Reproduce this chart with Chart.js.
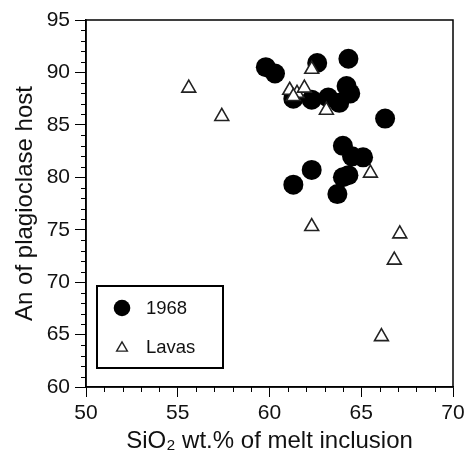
<!DOCTYPE html>
<html>
<head>
<meta charset="utf-8">
<script src="https://cdn.jsdelivr.net/npm/chart.js@4"></script>
<style>
  html, body { margin: 0; padding: 0; background: #fff; }
  #wrap { width: 472px; height: 452px; }
</style>
</head>
<body>
<div id="wrap"><canvas id="chart"></canvas></div>
<script>
const silica1968 = [59.8, 60.3, 62.6, 64.3, 64.2, 64.4, 62.3, 63.2, 63.8, 61.3, 66.3, 64.0, 64.5, 65.1, 62.3, 61.3, 64.3, 64.0, 63.7];
const an1968 = [90.5, 89.9, 90.9, 91.3, 88.7, 88.0, 87.4, 87.6, 87.1, 87.5, 85.6, 83.0, 82.0, 81.9, 80.7, 79.3, 80.2, 80.0, 78.4];

const silicaLavas = [55.6, 57.4, 62.3, 61.1, 61.5, 61.9, 61.3, 63.1, 65.5, 62.3, 67.1, 66.8, 66.1];
const anLavas = [88.5, 85.8, 90.3, 88.3, 88.0, 88.5, 87.7, 86.4, 80.4, 75.3, 74.6, 72.1, 64.8];

const xRange = [50, 70];
const yRange = [60, 95];
const seriesNames = ['1968', 'Lavas'];

const FONT = 'Liberation Sans, Arial, Helvetica, sans-serif';

const toPoints = (xs, ys) => xs.map((x, i) => ({x: x, y: ys[i]}));

// frame, minor ticks and the boxed legend
const extras = {
  id: 'extras',
  afterDraw(chart) {
    const ctx = chart.ctx;
    const a = chart.chartArea;
    const xs = chart.scales.x, ys = chart.scales.y;
    ctx.save();
    ctx.strokeStyle = '#000';
    ctx.lineWidth = 1.5;
    ctx.strokeRect(a.left, a.top, a.right - a.left, a.bottom - a.top);

    ctx.lineWidth = 1;
    ctx.beginPath();
    for (let v = xRange[0]; v <= xRange[1]; v++) {
      if (v % 5 === 0) continue;
      const px = Math.round(xs.getPixelForValue(v)) + 0.5;
      ctx.moveTo(px, a.bottom);
      ctx.lineTo(px, a.bottom + 5);
    }
    for (let v = yRange[0]; v <= yRange[1]; v++) {
      if (v % 5 === 0) continue;
      const py = Math.round(ys.getPixelForValue(v)) + 0.5;
      ctx.moveTo(a.left, py);
      ctx.lineTo(a.left - 5, py);
    }
    ctx.stroke();

    // legend box
    const bx = 97, by = 286, bw = 126, bh = 82;
    ctx.fillStyle = '#fff';
    ctx.fillRect(bx, by, bw, bh);
    ctx.lineWidth = 2;
    ctx.strokeRect(bx, by, bw, bh);

    ctx.fillStyle = '#000';
    ctx.beginPath();
    ctx.arc(122, 308, 8.3, 0, Math.PI * 2);
    ctx.fill();

    ctx.fillStyle = '#fff';
    ctx.strokeStyle = '#222';
    ctx.lineWidth = 1.4;
    Chart.helpers.drawPoint(ctx, {pointStyle: 'triangle', radius: 6.2, borderWidth: 1.4}, 122, 348);

    ctx.fillStyle = '#111';
    ctx.font = '18.5px ' + FONT;
    ctx.textBaseline = 'middle';
    ctx.textAlign = 'left';
    ctx.fillText(seriesNames[0], 146, 309);
    ctx.fillText(seriesNames[1], 146, 348);
    ctx.restore();
  }
};

new Chart(document.getElementById('chart'), {
  type: 'scatter',
  data: {
    datasets: [
      {
        label: seriesNames[0],
        data: toPoints(silica1968, an1968),
        pointStyle: 'circle',
        pointRadius: 10,
        pointHoverRadius: 10,
        backgroundColor: '#000',
        borderColor: '#000',
        borderWidth: 0,
        order: 1
      },
      {
        label: seriesNames[1],
        data: toPoints(silicaLavas, anLavas),
        pointStyle: 'triangle',
        pointRadius: 8,
        pointHoverRadius: 8,
        backgroundColor: '#fff',
        borderColor: '#222',
        borderWidth: 1.6,
        order: 0
      }
    ]
  },
  options: {
    responsive: true,
    maintainAspectRatio: false,
    animation: false,
    layout: { padding: { top: 20, right: 19, left: 0, bottom: 0 } },
    plugins: {
      legend: { display: false },
      tooltip: { enabled: false }
    },
    scales: {
      x: {
        type: 'linear',
        min: xRange[0],
        max: xRange[1],
        afterFit: s => { s.height = 65; },
        ticks: {
          stepSize: 5,
          color: '#111',
          padding: 4,
          font: { family: FONT, size: 21 }
        },
        grid: { drawOnChartArea: false, tickLength: 10, color: '#000', tickColor: '#000' },
        border: { color: '#000', width: 1.5 },
        title: {
          display: true,
          text: 'SiO\u2082 wt.% of melt inclusion',
          color: '#111',
          font: { family: FONT, size: 24, lineHeight: 1 },
          padding: { top: 0, bottom: -1 }
        }
      },
      y: {
        type: 'linear',
        min: yRange[0],
        max: yRange[1],
        afterFit: s => { s.width = 86; },
        ticks: {
          stepSize: 5,
          color: '#111',
          padding: 5,
          font: { family: FONT, size: 21 }
        },
        grid: { drawOnChartArea: false, tickLength: 11, color: '#000', tickColor: '#000' },
        border: { color: '#000', width: 1.5 },
        title: {
          display: true,
          text: 'An of plagioclase host',
          color: '#111',
          font: { family: FONT, size: 24, lineHeight: 1.2 },
          padding: { top: 11, bottom: 0 }
        }
      }
    }
  },
  plugins: [extras]
});
</script>
</body>
</html>
